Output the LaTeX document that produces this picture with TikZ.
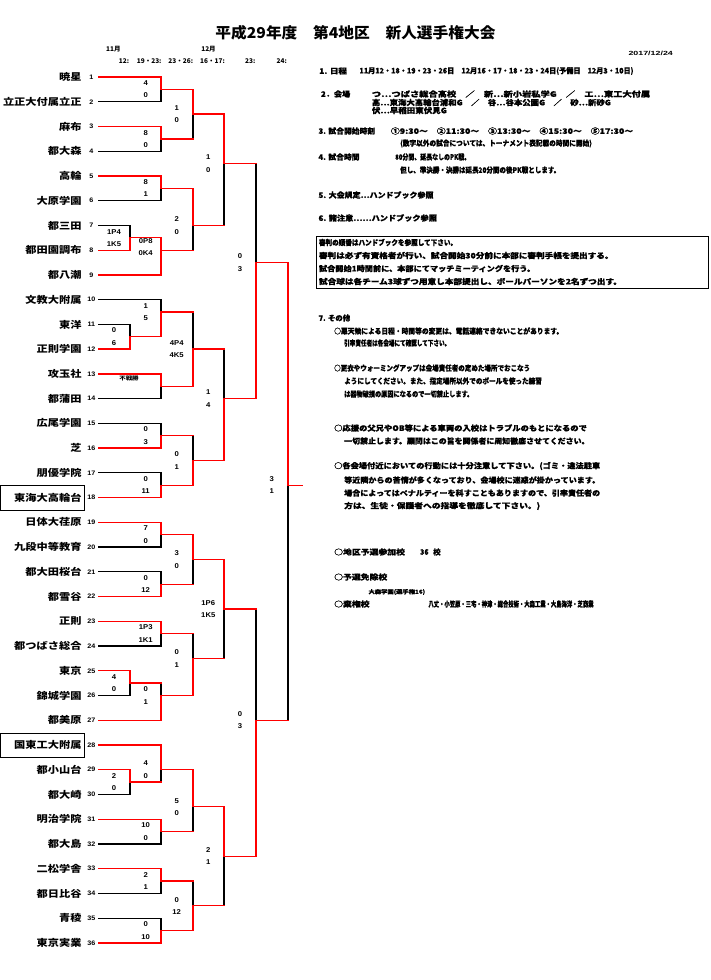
\documentclass[tikz,border=0pt]{standalone}
\usepackage{fontspec}
\usepackage{graphicx}
\newfontfamily\jp[FakeStretch=1.18]{Noto Sans CJK JP}
\newfontfamily\jpn{Noto Sans CJK JP}
\newfontfamily\jpr[FakeBold=0.8]{Noto Sans CJK JP}
\newfontfamily\jpl[FakeStretch=1.18,FakeBold=0.8]{Noto Sans CJK JP}
\newfontfamily\ar[FakeStretch=1.1]{Liberation Sans}
\newcommand\fitw[2]{\resizebox{#1pt}{\height}{#2}}
\pgfdeclarelayer{back}
\pgfdeclarelayer{bg}
\pgfsetlayers{back,bg,main}
\newcounter{scn}
% horizontal segment: #1 style (l or w), #2 x from, #3 x to, #4 y
\newcommand\hs[4]{%
  \if#1l\begin{pgfonlayer}{bg}\draw[l] (#2,#4) -- (#3,#4);\end{pgfonlayer}\else\draw[w] (#2,#4) -- (#3,#4);\fi}
% match: #1 column x, #2 top input x, #3 top y, #4 bottom input x, #5 bottom y, #6 output y,
% #7 top horizontal style, #8 bottom horizontal style, #9 winner t/b/x
\newcommand\bm[9]{%
  \hs{#7}{#2}{#1}{#3}%
  \hs{#8}{#4}{#1}{#5}%
  \if#9t \begin{pgfonlayer}{bg}\draw[l] (#1,#6) -- (#1,#5);\end{pgfonlayer}\draw[w] (#1,#3) -- (#1,#6);\fi
  \if#9b \begin{pgfonlayer}{bg}\draw[l] (#1,#3) -- (#1,#6);\end{pgfonlayer}\draw[w] (#1,#6) -- (#1,#5);\fi
  \if#9x \draw[w] (#1,#3) -- (#1,#5);\fi
}
\newcommand\score[4]{%
  \stepcounter{scn}%
  \node[scr] (s\arabic{scn}a) at (#1,#2) [yshift=6.2pt] {#3};
  \node[scr] (s\arabic{scn}b) at (#1,#2) [yshift=-6.2pt] {#4};
}
\begin{document}
\begin{tikzpicture}[
  w/.style={draw=red, line width=1.3pt, line cap=rect},
  l/.style={draw=black, line width=1.3pt, line cap=rect},
  team/.style={font=\jp\bfseries\fontsize{9.5}{10}\selectfont, anchor=east, inner sep=0pt},
  num/.style={font=\ar\bfseries\fontsize{6.5}{7}\selectfont, inner sep=0pt},
  scr/.style={font=\ar\bfseries\fontsize{7}{8}\selectfont, inner sep=0pt},
  rt/.style={font=\jpr\bfseries\fontsize{7.5}{8}\selectfont, anchor=west, inner sep=0pt},
  rl/.style={font=\jpl\bfseries\fontsize{7.5}{8}\selectfont, anchor=west, inner sep=0pt},
  hd/.style={font=\jpn\bfseries\fontsize{6.5}{7}\selectfont, inner sep=0pt},
]
\useasboundingbox (0,0) rectangle (710pt,-980pt);
\begin{pgfonlayer}{back}
\fill[white] (0,0) rectangle (710pt,-980pt);
\end{pgfonlayer}

% ---------- pixel coordinates ----------
\begin{scope}[x=1pt,y=-1pt]
\node[font=\jpn\bfseries\fontsize{15}{16}\selectfont, inner sep=0pt] (title) at (355.5,33) {\fitw{280}{平成29年度　第4地区　新人選手権大会}};
\node[font=\ar\bfseries\fontsize{6}{7}\selectfont, anchor=west, inner sep=0pt] (date) at (628.3,53) {\fitw{44.4}{2017/12/24}};
\node[hd] (mon11) at (113.3,49) {11月};
\node[hd] (mon12) at (208.5,49) {12月};
\node[hd, anchor=east] (d1) at (129.3,61) {12:};
\node[hd, anchor=east] (d2) at (161.7,61) {19・23:};
\node[hd, anchor=east] (d3) at (193.3,61) {23・26:};
\node[hd, anchor=east] (d4) at (225,61) {16・17:};
\node[hd, anchor=east] (d5) at (255.5,61) {23:};
\node[hd, anchor=east] (d6) at (287,61) {24:};

% boxes round seeded teams
\draw[line width=0.9pt] (0.6,485.7) rectangle (84.3,510.7);
\draw[line width=0.9pt] (0.6,733.3) rectangle (84.3,757.3);

% right text
\node[rt] (r1a) at (319,71) {\fitw{27.7}{1. 日程}};
\node[rt] (r1b) at (359.3,71) {\fitw{274}{11月12・18・19・23・26日　12月16・17・18・23・24日(予備日　12月3・10日)}};
\node[rt] (r2a) at (320.7,94) {\fitw{29.3}{2．会場}};
\node[rt] (r2b) at (371.7,94) {\fitw{278.3}{つ…つばさ総合高校　／　新…新小岩私学G　／　エ…東工大付属}};
\node[rt] (r2c) at (371.7,102.5) {\fitw{239}{高…東海大高輪台浦和G　／　谷…谷本公園G　／　砂…新砂G}};
\node[rt] (r2d) at (371.7,110.5) {\fitw{75}{伏…早稲田東伏見G}};
\node[rt] (r3a) at (318.3,131) {\fitw{56.7}{3. 試合開始時刻}};
\node[rt] (r3b) at (390.7,131) {\fitw{242.3}{①9:30～　②11:30～　③13:30～　④15:30～　⑤17:30～}};
\node[rt] (r3c) at (400,143.5) {\fitw{191.7}{(数字以外の試合については、トーナメント表記載の時間に開始)}};
\node[rt] (r4a) at (318.3,157) {\fitw{41}{4. 試合時間}};
\node[rt] (r4b) at (395,157) {\fitw{75}{80分間、延長なしのPK戦。}};
\node[rt] (r4c) at (400,170) {\fitw{160}{但し、準決勝・決勝は延長20分間の後PK戦とします。}};
\node[rt] (r5) at (318.3,195) {\fitw{115}{5. 大会規定…ハンドブック参照}};
\node[rt] (r6) at (318.3,218) {\fitw{118.4}{6. 諸注意……ハンドブック参照}};
\draw[line width=0.9pt] (316.7,236) rectangle (708.5,288);
\node[rt] (b1) at (318.8,242.5) {\fitw{138}{審判の順番はハンドブックを参照して下さい。}};
\node[rt] (b2) at (318.8,255.5) {\fitw{294.5}{審判は必ず有資格者が行い、試合開始30分前に本部に審判手帳を提出する。}};
\node[rt] (b3) at (318.8,268.5) {\fitw{216.2}{試合開始1時間前に、本部にてマッチミーティングを行う。}};
\node[rt] (b4) at (318.8,281.5) {\fitw{302.9}{試合球は各チーム3球ずつ用意し本部提出し、ボールパーソンを2名ずつ出す。}};
\node[rt] (r7) at (318.3,318) {\fitw{31.7}{7. その他}};
\node[rt] (r7a) at (334,331) {\fitw{229}{○悪天候による日程・時間等の変更は、電話連絡できないことがあります。}};
\node[rt] (r7b) at (344,343) {\fitw{106}{引率責任者は各会場にて確認して下さい。}};
\node[rt] (r7c) at (334,368) {\fitw{196}{○更衣やウォーミングアップは会場責任者の定めた場所でおこなう}};
\node[rt] (r7d) at (344,381) {\fitw{197.7}{ようにしてください。また、指定場所以外でのボールを使った練習}};
\node[rt] (r7e) at (344,394) {\fitw{129}{は器物破損の原因になるので一切禁止します。}};
\node[rt] (r7f) at (334,428) {\fitw{252.7}{○応援の父兄やOB等による車両の入校はトラブルのもとになるので}};
\node[rt] (r7g) at (344,441) {\fitw{245.3}{一切禁止します。顧問はこの旨を関係者に周知徹底させてください。}};
\node[rt] (r7h) at (334,466) {\fitw{266}{○各会場付近においての行動には十分注意して下さい。(ゴミ・違法駐車}};
\node[rt] (r7i) at (344,480) {\fitw{256}{等近隣からの苦情が多くなっており、会場校に迷惑が掛かっています。}};
\node[rt] (r7j) at (344,493) {\fitw{256}{場合によってはペナルティーを科すこともありますので、引率責任者の}};
\node[rt] (r7k) at (344,506) {\fitw{196}{方は、生徒・保護者への指導を徹底して下さい。)}};
\node[rl] (r8a) at (334,552) {○地区予選参加校};
\node[rt] (r8b) at (420,552) {\fitw{8.5}{36}};
\node[rt] (r8c) at (433,552) {校};
\node[rl] (r9) at (334,577) {○予選免除校};
\node[rt, font=\jpr\bfseries\fontsize{5.5}{6}\selectfont] (r9a) at (368.3,592) {\fitw{56.7}{大森学園(選手権16)}};
\node[rl] (r10a) at (334,604) {○棄権校};
\node[rt] (r10b) at (428.3,604) {\fitw{165}{八丈・小笠原・三宅・神津・総合技術・大森工業・大島海洋・芝商業}};
\end{scope}

% ---------- bracket: x in px, y in team rows ----------
\begin{scope}[x=1pt,y=-24.74pt,yshift=-52.26pt]
\foreach \i/\n in {1/暁星,2/立正大付属立正,3/麻布,4/都大森,5/高輪,6/大原学園,7/都三田,8/都田園調布,9/都八潮,
  10/文教大附属,11/東洋,12/正則学園,13/攻玉社,14/都蒲田,15/広尾学園,16/芝,17/朋優学院,18/東海大高輪台,
  19/日体大荏原,20/九段中等教育,21/都大田桜台,22/都雪谷,23/正則,24/都つばさ総合,25/東京,26/錦城学園,27/都美原,
  28/国東工大附属,29/都小山台,30/都大崎,31/明治学院,32/都大島,33/二松学舎,34/都日比谷,35/青稜,36/東京実業}{
  \node[team] (nm\i) at (81.7,\i) {\n};
  \node[num] (no\i) at (91.3,\i) {\i};
}
\node[font=\jp\bfseries\fontsize{5.5}{6}\selectfont, inner sep=0pt] (fusen) at (129,13.2) {不戦勝};

% preliminaries
\bm{130}{98.3}{7}{98.3}{8}{7.5}{l}{w}{b}
\bm{130}{98.3}{11}{98.3}{12}{11.5}{l}{w}{b}
\bm{130}{98.3}{25}{98.3}{26}{25.5}{w}{l}{t}
\bm{130}{98.3}{29}{98.3}{30}{29.5}{w}{l}{t}
% round 1
\bm{161}{98.3}{1}{98.3}{2}{1.5}{w}{l}{t}
\bm{161}{98.3}{3}{98.3}{4}{3.5}{w}{l}{t}
\bm{161}{98.3}{5}{98.3}{6}{5.5}{w}{l}{t}
\bm{161}{130}{7.5}{98.3}{9}{8}{w}{w}{x}
\bm{161}{98.3}{10}{130}{11.5}{10.5}{l}{w}{b}
\bm{161}{98.3}{13}{98.3}{14}{13.5}{w}{l}{t}
\bm{161}{98.3}{15}{98.3}{16}{15.5}{l}{w}{b}
\bm{161}{98.3}{17}{98.3}{18}{17.5}{l}{w}{b}
\bm{161}{98.3}{19}{98.3}{20}{19.5}{w}{l}{t}
\bm{161}{98.3}{21}{98.3}{22}{21.5}{l}{w}{b}
\bm{161}{98.3}{23}{98.3}{24}{23.5}{w}{l}{t}
\bm{161}{130}{25.5}{98.3}{27}{26}{w}{w}{b}
\bm{161}{98.3}{28}{130}{29.5}{29}{w}{w}{t}
\bm{161}{98.3}{31}{98.3}{32}{31.5}{w}{l}{t}
\bm{161}{98.3}{33}{98.3}{34}{33.5}{w}{l}{t}
\bm{161}{98.3}{35}{98.3}{36}{35.5}{l}{w}{b}
% round 2
\bm{193}{161}{1.5}{161}{3.5}{2.5}{w}{w}{t}
\bm{193}{161}{5.5}{161}{8}{7}{w}{w}{t}
\bm{193}{161}{10.5}{161}{13.5}{12}{w}{w}{b}
\bm{193}{161}{15.5}{161}{17.5}{16.5}{w}{w}{b}
\bm{193}{161}{19.5}{161}{21.5}{20.5}{w}{w}{t}
\bm{193}{161}{23.5}{161}{26}{24.5}{w}{w}{b}
\bm{193}{161}{29}{161}{31.5}{30.5}{w}{w}{t}
\bm{193}{161}{33.5}{161}{35.5}{34.5}{w}{w}{b}
% round 3
\bm{224}{193}{2.5}{193}{7}{4.5}{w}{w}{t}
\bm{224}{193}{12}{193}{16.5}{14}{w}{w}{b}
\bm{224}{193}{20.5}{193}{24.5}{22.5}{w}{w}{t}
\bm{224}{193}{30.5}{193}{34.5}{32.5}{w}{w}{t}
% round 4
\bm{256}{224}{4.5}{224}{14}{8.5}{w}{w}{b}
\bm{256}{224}{22.5}{224}{32.5}{27}{w}{w}{b}
% final
\bm{288}{256}{8.5}{256}{27}{17.5}{w}{w}{t}
\coordinate (champ) at (302,17.5);
\draw[w] (288,17.5) -- (champ);

% scores
\score{114}{7.5}{1P4}{1K5}
\score{114}{11.5}{0}{6}
\score{114}{25.5}{4}{0}
\score{114}{29.5}{2}{0}
\score{145.7}{1.5}{4}{0}
\score{145.7}{3.5}{8}{0}
\score{145.7}{5.5}{8}{1}
\score{145.7}{7.87}{0P8}{0K4}
\score{145.7}{10.5}{1}{5}
\score{145.7}{15.5}{0}{3}
\score{145.7}{17.5}{0}{11}
\score{145.7}{19.5}{7}{0}
\score{145.7}{21.5}{0}{12}
\score{145.7}{23.5}{1P3}{1K1}
\score{145.7}{26}{0}{1}
\score{145.7}{29}{4}{0}
\score{145.7}{31.5}{10}{0}
\score{145.7}{33.5}{2}{1}
\score{145.7}{35.5}{0}{10}
\score{176.7}{2.5}{1}{0}
\score{176.7}{7}{2}{0}
\score{176.7}{12}{4P4}{4K5}
\score{176.7}{16.5}{0}{1}
\score{176.7}{20.5}{3}{0}
\score{176.7}{24.5}{0}{1}
\score{176.7}{30.5}{5}{0}
\score{176.7}{34.5}{0}{12}
\score{208.3}{4.5}{1}{0}
\score{208.3}{14}{1}{4}
\score{208.3}{22.5}{1P6}{1K5}
\score{208.3}{32.5}{2}{1}
\score{240}{8.5}{0}{3}
\score{240}{27}{0}{3}
\score{271.7}{17.5}{3}{1}
\end{scope}
\end{tikzpicture}
\end{document}
